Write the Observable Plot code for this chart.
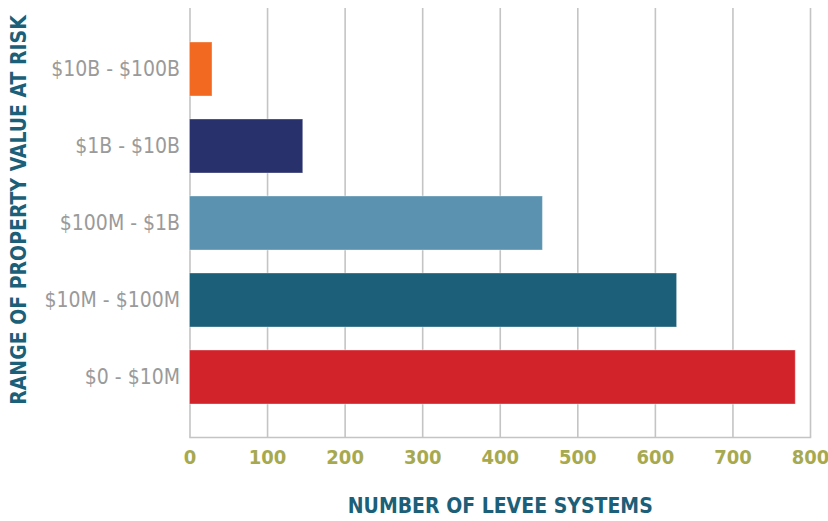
<!DOCTYPE html>
<html>
<head>
<meta charset="utf-8">
<script src="https://cdn.jsdelivr.net/npm/d3@7"></script>
<script src="https://cdn.jsdelivr.net/npm/@observablehq/plot@0.6"></script>
<style>
  html, body { margin: 0; padding: 0; background: #fff; }
  #chart svg { display: block; }
</style>
</head>
<body>
<div id="chart"></div>
<script>
const categories = ["$10B - $100B", "$1B - $10B", "$100M - $1B", "$10M - $100M", "$0 - $10M"];
const values = [29, 146, 455, 628, 781];
const colors = ["#f26a22", "#28316b", "#5a92b0", "#1c5f78", "#d2232b"];
const xTicks = [0, 100, 200, 300, 400, 500, 600, 700, 800];
const xTitle = "NUMBER OF LEVEE SYSTEMS";
const yTitle = "RANGE OF PROPERTY VALUE AT RISK";

const data = categories.map((c, i) => ({category: c, value: values[i], color: colors[i]}));
const font = "'Liberation Sans Narrow', 'DejaVu Sans Condensed', 'Roboto Condensed', sans-serif";

const chart = Plot.plot({
  width: 828,
  height: 521,
  marginLeft: 189.5,
  marginRight: 18,
  marginTop: 8,
  marginBottom: 84,
  style: {fontFamily: font, background: "#fff"},
  x: {domain: [0, 800], ticks: xTicks},
  y: {domain: categories, paddingInner: 0.3, paddingOuter: 0.427},
  marks: [
    Plot.ruleX(xTicks, {stroke: "#c4c4c4", strokeWidth: 1.6}),
    Plot.frame({anchor: "bottom", stroke: "#c4c4c4", strokeWidth: 1.6}),
    Plot.barX(data, {x: "value", y: "category", fill: "color", stroke: "#ffffff", strokeOpacity: 0.35, strokeWidth: 1}),
    Plot.axisX({ticks: xTicks, tickSize: 0, tickPadding: 12, fontSize: 20, fill: "#a7a94f", fontWeight: 600, label: null, tickFormat: d => String(d)}),
    Plot.axisY({tickSize: 0, tickPadding: 10, fontSize: 21, fill: "#9a9a9a", fontWeight: "normal", label: null}),
    Plot.text([xTitle], {frameAnchor: "bottom", dy: 75, fontSize: 21, fontWeight: "bold", fill: "#1c5f78", text: d => d}),
    Plot.text([yTitle], {frameAnchor: "left", textAnchor: "middle", dx: -171, dy: -13, rotate: -90, fontSize: 21, fontWeight: "bold", fill: "#1c5f78", text: d => d})
  ]
});
document.getElementById("chart").appendChild(chart);
</script>
</body>
</html>
